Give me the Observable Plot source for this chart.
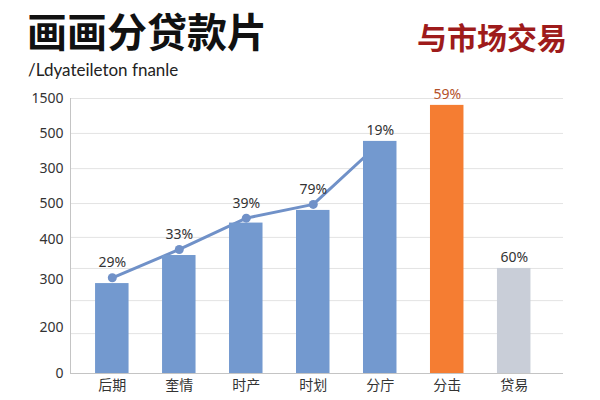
<!DOCTYPE html>
<html>
<head>
<meta charset="utf-8">
<script src="https://cdn.jsdelivr.net/npm/d3@7"></script>
<script src="https://cdn.jsdelivr.net/npm/@observablehq/plot@0.6"></script>
<style>
  html, body { margin: 0; padding: 0; background: #fff; }
  #wrap { position: relative; width: 600px; height: 400px; background: #fff; overflow: hidden; }
  .title { position: absolute; left: 27px; top: 10px; font: 700 40px/1 "Noto Sans CJK SC", sans-serif; color: #111; white-space: nowrap; }
  .right-title { position: absolute; left: 417px; top: 21px; font: 700 30px/1 "Noto Sans CJK SC", sans-serif; color: #9e1b1b; white-space: nowrap; }
  .subtitle { position: absolute; left: 28px; top: 61px; font: 400 17px/1 "Lato", sans-serif; color: #222; letter-spacing: 0px; white-space: nowrap; }
  #chart { position: absolute; left: 0; top: 80px; }
</style>
</head>
<body>
<div id="wrap">
  <div class="title">画画分贷款片</div>
  <div class="right-title">与市场交易</div>
  <div class="subtitle">/Ldyateileton fnanle</div>
  <div id="chart"></div>
</div>
<script>
// ---- data ----
const categories = ["后期", "奎情", "时产", "时划", "分庁", "分击", "贷易"];
const barValues = [32.7, 42.9, 54.7, 59.3, 84.4, 97.5, 38.2];
const barGroups = ["base", "base", "base", "base", "base", "highlight", "other"];
const lineValues = [34.8, 45.1, 56.5, 61.5, 84.0];
const percentLabels = ["29%", "33%", "39%", "79%", "19%", "59%", "60%"];
const gridValues = [100, 87.3, 74.5, 61.8, 49.5, 38.2, 26.5, 14.5];
const tickValues = [100, 87.3, 74.5, 61.8, 48.7, 34.2, 16.7, 0];
const tickLabels = ["1500", "500", "300", "500", "400", "300", "200", "0"];

// ---- tables ----
const bars = categories.map((c, i) => ({cat: c, value: barValues[i], group: barGroups[i], label: percentLabels[i]}));
const linePts = lineValues.map((v, i) => ({cat: categories[i], value: v, label: percentLabels[i]}));
const dotPts = linePts.slice(0, 4);
const barLabels = bars.slice(4);
const tickLabelMap = new Map(tickValues.map((v, i) => [v, tickLabels[i]]));

const chart = Plot.plot({
  width: 600,
  height: 320,
  marginLeft: 70,
  marginRight: 37,
  marginTop: 18,
  marginBottom: 27,
  style: {fontFamily: "'Noto Sans', 'Noto Sans CJK SC', sans-serif", background: "#fff", overflow: "visible"},
  x: {domain: categories, paddingInner: 0.5, paddingOuter: 0.43, align: 0.435, round: false, label: null},
  y: {domain: [0, 100], label: null},
  color: {domain: ["base", "highlight", "other"], range: ["#7399cf", "#f57d32", "#c9ced8"]},
  marks: [
    Plot.ruleY(gridValues, {stroke: "#e3e3e3", strokeWidth: 1}),
    Plot.frame({anchor: "left", stroke: "#c4c4c4"}),
    Plot.line(linePts, {x: "cat", y: "value", stroke: "#7091c8", strokeWidth: 3}),
    Plot.dot(dotPts, {x: "cat", y: "value", r: 4.5, fill: "#7091c8", stroke: "none"}),
    Plot.barY(bars, {x: "cat", y: "value", fill: "group"}),
    Plot.ruleY([0], {stroke: "#c4c4c4", strokeWidth: 1}),
    Plot.text(dotPts, {x: "cat", y: "value", text: "label", dy: -15, fill: "#333", fontSize: 14}),
    Plot.text(barLabels.filter(d => d.group !== "highlight"), {x: "cat", y: "value", text: "label", dy: -11, fill: "#333", fontSize: 14}),
    Plot.text(barLabels.filter(d => d.group === "highlight"), {x: "cat", y: "value", text: "label", dy: -11, fill: "#b4522a", fontSize: 14}),
    Plot.axisY(tickValues, {tickSize: 0, tickPadding: 7, fontSize: 14, fill: "#333", tickFormat: d => tickLabelMap.get(d), label: null}),
    Plot.axisX({tickSize: 0, tickPadding: 7, fontSize: 14, fill: "#333", fontFamily: "'Noto Sans CJK SC', sans-serif", label: null})
  ]
});
document.getElementById("chart").appendChild(chart);
</script>
</body>
</html>
